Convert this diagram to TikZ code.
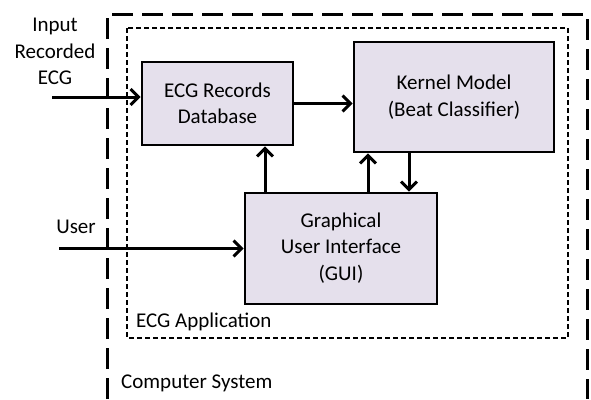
\documentclass[tikz,border=0pt]{standalone}
\usepackage{fontspec}
\setmainfont{Carlito}
\usetikzlibrary{arrows.meta,calc}
\definecolor{boxfill}{HTML}{E5E0EC}
\begin{document}
\begin{tikzpicture}[x=1pt,y=-1pt,
  txt/.style={font=\fontsize{21}{26.5}\selectfont,inner sep=0pt,align=center},
  block/.style={txt,draw,line width=2.6pt,fill=boxfill},
  flow/.style={line width=3pt,-{Straight Barb[length=8pt,width=16pt,line width=3pt]}},
  outerframe/.style={line width=3pt,dash pattern=on 21pt off 9pt},
  innerframe/.style={line width=2pt,dash pattern=on 5pt off 3pt}]
\useasboundingbox (0,0) rectangle (591,399);

% computer system frame (open at the bottom)
\draw[outerframe] (107,399) -- (107,14) -- (587,14) -- (587,399);
% application frame
\draw[innerframe] (127,28) rectangle (568,338);

% blocks
\node[block,minimum width=151pt,minimum height=83pt] (db) at (217.5,103.5) {ECG Records\\Database};
\node[block,minimum width=200pt,minimum height=110pt] (kern) at (454,97) {Kernel Model\\(Beat Classifier)};
\node[block,minimum width=192pt,minimum height=111pt] (gui) at (341,248.5) {\raisebox{-4pt}{\begin{tabular}{@{}c@{}}Graphical\\User Interface\\(GUI)\end{tabular}}};

% labels
\node[txt] (inlab) at (55,51.5) {Input\\Recorded\\ECG};
\node[txt] (userlab) at (76,227) {User};
\node[txt,anchor=west] (applab) at (136,322) {ECG Application};
\node[txt,anchor=west] (syslab) at (121,383) {Computer System};

% free ends and connector columns
\coordinate (inp) at (52,97);
\coordinate (usr) at (59,248.5);
\coordinate (c1) at (265,0);
\coordinate (c2) at (368,0);
\coordinate (c3) at (409,0);

% connectors
\draw[flow] (inp) -- (inp -| db.west);
\draw[flow] (usr) -- (gui.west);
\draw[flow] (db.east) -- (db.east -| kern.west);
\draw[flow] (gui.north -| c1) -- (db.south -| c1);
\draw[flow] (gui.north -| c2) -- (kern.south -| c2);
\draw[flow] (kern.south -| c3) -- (gui.north -| c3);
\end{tikzpicture}
\end{document}
